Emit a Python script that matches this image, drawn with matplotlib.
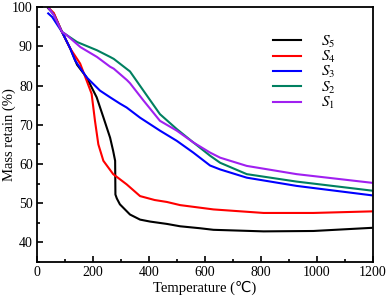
import matplotlib
matplotlib.use("Agg")
import matplotlib.pyplot as plt
from matplotlib.ticker import MultipleLocator

plt.rcParams['font.family'] = ['Liberation Serif', 'DejaVu Sans']
plt.rcParams['mathtext.fontset'] = 'stix'

s5_T = [40, 60, 89, 119, 143, 177, 213, 237, 261, 272, 279, 280, 285, 296, 332, 368, 404, 464, 511, 582, 630, 809, 987, 1195]
s5_m = [99.7, 98.3, 93.7, 89.4, 85.3, 82.1, 77.0, 71.9, 66.7, 63.3, 60.8, 52.2, 51.2, 49.7, 47.1, 45.8, 45.3, 44.7, 44.1, 43.6, 43.2, 42.8, 42.9, 43.7]

s4_T = [40, 60, 89, 119, 154, 177, 195, 207, 219, 237, 272, 320, 368, 420, 464, 511, 630, 809, 987, 1195]
s4_m = [99.9, 98.5, 93.7, 89.4, 85.6, 81.3, 77.9, 71.0, 65.0, 60.8, 57.4, 54.8, 51.8, 50.8, 50.3, 49.5, 48.4, 47.5, 47.5, 47.9]

s3_T = [40, 54, 89, 119, 136, 177, 225, 261, 296, 320, 368, 439, 499, 558, 618, 654, 749, 927, 1195]
s3_m = [98.4, 97.5, 93.7, 89.4, 86.4, 82.1, 78.7, 77.0, 75.4, 74.4, 71.8, 68.5, 65.9, 62.9, 59.6, 58.6, 56.5, 54.4, 52.0]

s2_T = [40, 60, 89, 143, 214, 261, 274, 321, 332, 380, 439, 499, 558, 618, 654, 749, 927, 1195]
s2_m = [99.9, 98.0, 93.7, 91.1, 89.0, 87.3, 86.8, 84.2, 83.6, 78.7, 72.7, 68.9, 65.5, 62.1, 60.3, 57.4, 55.5, 53.2]

s1_T = [40, 60, 89, 107, 155, 214, 261, 274, 321, 332, 380, 439, 499, 558, 618, 654, 749, 927, 1195]
s1_m = [99.9, 98.0, 93.7, 92.8, 89.8, 87.3, 84.8, 84.3, 81.4, 80.6, 76.2, 71.0, 68.5, 65.5, 62.9, 61.6, 59.5, 57.4, 55.2]

series = [
    (s5_T, s5_m, '#000000', r'$S_5$'),
    (s4_T, s4_m, '#ff0000', r'$S_4$'),
    (s3_T, s3_m, '#0000ff', r'$S_3$'),
    (s2_T, s2_m, '#008060', r'$S_2$'),
    (s1_T, s1_m, '#a020f0', r'$S_1$'),
]

fig = plt.figure(figsize=(3.88, 2.97), dpi=100)
ax = fig.add_axes([0.0954, 0.118, 0.866, 0.858])
for T, m, c, lab in series:
    ax.plot(T, m, color=c, lw=1.5, label=lab)

ax.set_xlim(0, 1200)
ax.set_ylim(35, 100)
ax.xaxis.set_major_locator(MultipleLocator(200))
ax.xaxis.set_minor_locator(MultipleLocator(100))
ax.yaxis.set_minor_locator(MultipleLocator(5))
ax.set_yticks([40, 50, 60, 70, 80, 90, 100])
ax.tick_params(which='both', direction='in', labelsize=10, top=False, right=False, pad=3)
ax.tick_params(which='major', length=4, width=1.2)
ax.tick_params(which='minor', length=2.5, width=1.2)
for sp in ax.spines.values():
    sp.set_linewidth(1.3)
ax.set_xlabel('Temperature (℃)', fontsize=10.5, labelpad=1)
ax.set_ylabel('Mass retain (%)', fontsize=10.5)
ax.yaxis.set_label_coords(-0.062, 0.5)

leg = ax.legend(loc='upper right', bbox_to_anchor=(0.93, 0.95), frameon=False,
                fontsize=11, handlelength=1.85, handletextpad=1.3, labelspacing=-0.05)

fig.savefig('out.png', dpi=100)
